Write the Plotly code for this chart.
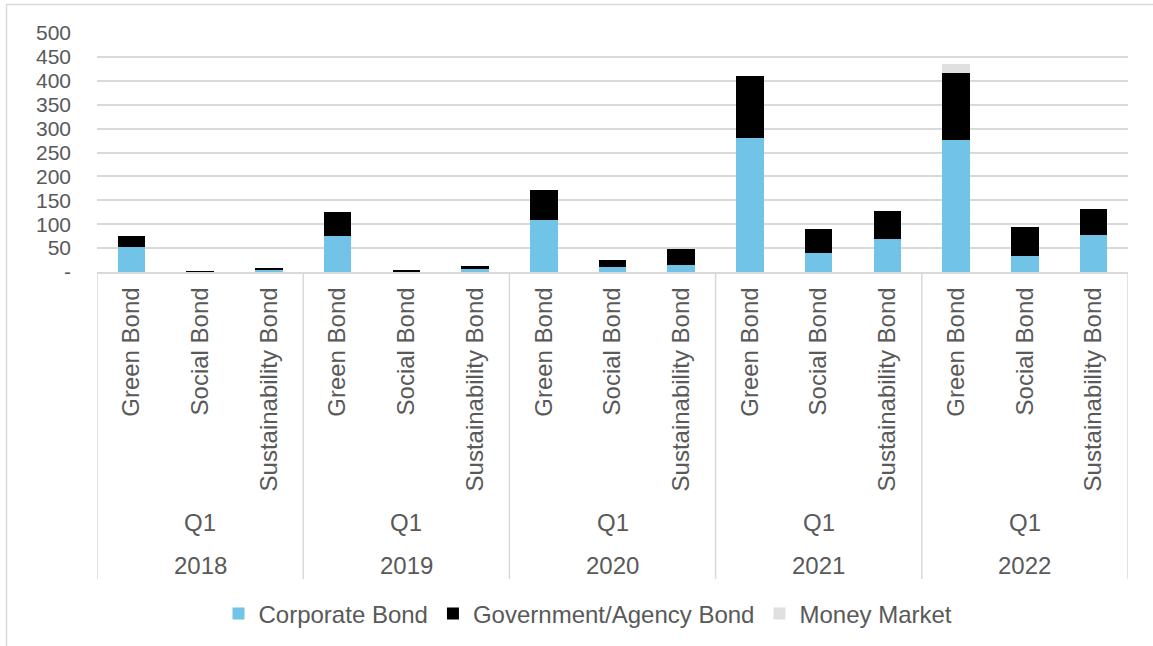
import plotly.graph_objects as go

years = ["2018", "2019", "2020", "2021", "2022"]
quarter = "Q1"
bond_types = ["Green Bond", "Social Bond", "Sustainability Bond"]

corporate = [52, 0.6, 5,   75, 1, 6,   108, 10, 15,   280, 39, 69,   277, 34, 78]
government = [23, 0.6, 3,  51, 3, 7,   64, 16, 33,    131, 52, 58,   140, 61, 53]
money_market = [0, 0, 0,   0, 0, 0,    0, 0, 0,       0, 0, 0,       18, 0, 0]

y_ticks = [0, 50, 100, 150, 200, 250, 300, 350, 400, 450, 500]
y_tick_text = ["-"] + [str(v) for v in y_ticks[1:]]

n = len(years) * len(bond_types)
xs = list(range(n))
x_labels = bond_types * len(years)

FONT = "Liberation Sans, Arial, sans-serif"
GREY_TXT = "#595959"
GRID = "#d9d9d9"
FS = 24

fig = go.Figure()
series = [
    ("Corporate Bond", corporate, "#71C4E8"),
    ("Government/Agency Bond", government, "#000000"),
    ("Money Market", money_market, "#E0E0E0"),
]
for name, vals, col in series:
    fig.add_trace(go.Bar(x=xs, y=vals, name=name, marker=dict(color=col, line=dict(width=0))))

fig.update_layout(
    barmode="stack",
    bargap=0.6,
    width=1153, height=646,
    margin=dict(l=97, r=25, t=33, b=374),
    plot_bgcolor="white", paper_bgcolor="white",
    font=dict(family=FONT, size=FS, color=GREY_TXT),
    showlegend=True,
    legend=dict(orientation="h", x=588 / 1153, xanchor="center", xref="container",
                y=(646 - 614) / 646, yref="container", yanchor="middle",
                font=dict(size=FS, color=GREY_TXT), traceorder="normal",
                itemwidth=30),
)

fig.update_yaxes(range=[0, 500], tickvals=y_ticks, ticktext=y_tick_text,
                 showgrid=True, gridcolor=GRID, gridwidth=1.5, zeroline=False,
                 showline=False, ticks="", ticklabelstandoff=25,
                 tickfont=dict(size=21, color=GREY_TXT))
fig.update_xaxes(range=[-0.5, n - 0.5], tickvals=xs, ticktext=x_labels, tickangle=-90,
                 showline=True, linecolor=GRID, linewidth=1.5, showgrid=False, zeroline=False,
                 ticks="", ticklabelstandoff=4, tickfont=dict(size=FS, color=GREY_TXT))

plot_h = 646 - 33 - 374
plot_w = 1153 - 97 - 25
def py(pix):
    return (646 - 374 - pix) / plot_h
def px(pix):
    return (pix - 97) / plot_w

# group dividers
for k in range(len(years) + 1):
    xv = -0.5 + 3 * k
    fig.add_shape(type="line", xref="x", yref="paper", x0=xv, x1=xv, y0=0, y1=py(579),
                  line=dict(color=GRID, width=1.5))

# Q1 and year labels
for i, yr in enumerate(years):
    cx = 3 * i + 1
    fig.add_annotation(x=cx, xref="x", y=py(522), yref="paper", text=quarter, showarrow=False,
                       font=dict(size=FS, color=GREY_TXT), yanchor="middle")
    fig.add_annotation(x=cx, xref="x", y=py(565), yref="paper", text=yr, showarrow=False,
                       font=dict(size=FS, color=GREY_TXT), yanchor="middle")

# chart area border (top and left visible)
fig.add_shape(type="line", xref="paper", yref="paper", x0=px(6), x1=px(1153),
              y0=py(4.5), y1=py(4.5), line=dict(color=GRID, width=1.5))
fig.add_shape(type="line", xref="paper", yref="paper", x0=px(6.5), x1=px(6.5),
              y0=py(4), y1=py(646), line=dict(color=GRID, width=1.5))

fig.write_html("out.html", config={"displayModeBar": False},
               post_script="document.body.style.margin='0';document.body.style.padding='0';")
